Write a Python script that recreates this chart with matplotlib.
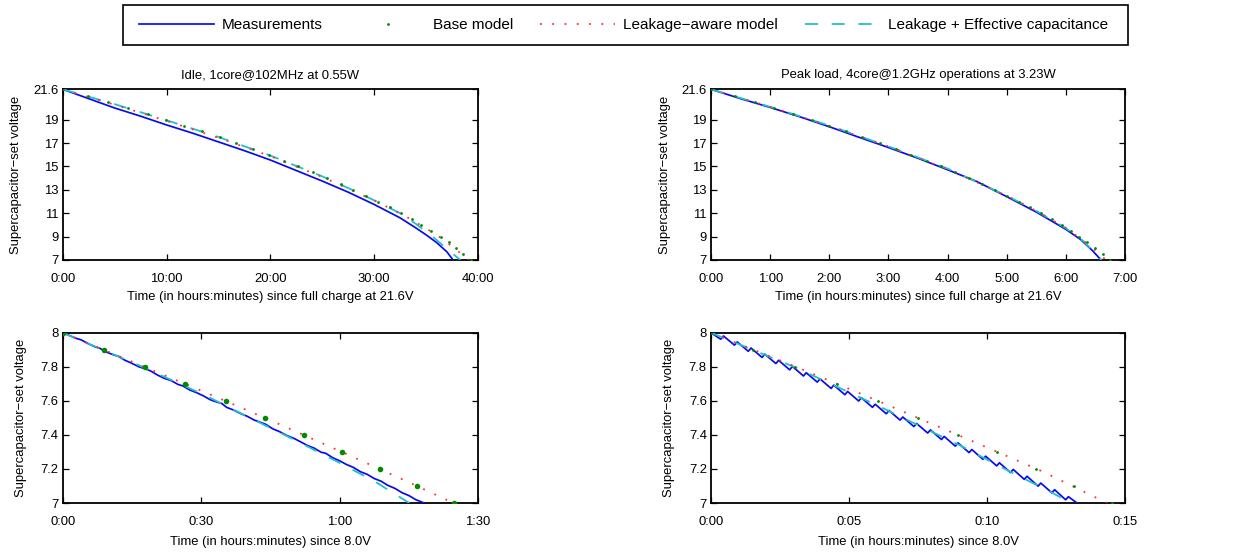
import matplotlib
matplotlib.use("Agg")
import matplotlib.pyplot as plt
import matplotlib.patches as mpatches
from matplotlib.lines import Line2D

plt.rcParams["font.family"] = ["Liberation Sans", "DejaVu Sans"]

# ---------------------------------------------------------------------------
# Data
# ---------------------------------------------------------------------------
# Top-left: idle, time in hours
tl_meas_t = [0.0, 2.5, 5.0, 7.5, 10.0, 12.5, 15.0, 17.5, 20.0, 22.5, 25.0,
             27.5, 30.0, 32.5, 34.0, 35.0, 36.0, 37.0, 37.6]
tl_meas_v = [21.6, 20.8, 20.0, 19.3, 18.55, 17.85, 17.1, 16.35, 15.55, 14.65,
             13.75, 12.8, 11.75, 10.6, 9.75, 9.15, 8.5, 7.7, 7.0]
tl_base_t = [0.0, 2.47, 4.39, 6.32, 8.24, 9.91, 11.7, 13.4, 15.1, 16.7, 18.3,
             19.9, 21.3, 22.7, 24.1, 25.5, 26.8, 28.0, 29.2, 30.4, 31.5, 32.6,
             33.6, 34.5, 35.5, 36.4, 37.2, 37.9, 38.6, 39.3]
tl_base_v = [21.6, 21.0, 20.5, 20.0, 19.5, 19.0, 18.5, 18.0, 17.5, 17.0, 16.5,
             16.0, 15.5, 15.0, 14.5, 14.0, 13.5, 13.0, 12.5, 12.0, 11.5, 11.0,
             10.5, 10.0, 9.5, 9.0, 8.5, 8.0, 7.5, 7.0]
tl_leak_t = [0.0, 5.0, 10.0, 15.0, 20.0, 25.0, 30.0, 33.0, 35.0, 36.5, 38.0, 39.1]
tl_leak_v = [21.6, 20.28, 18.9, 17.45, 15.88, 14.1, 12.1, 10.75, 9.7, 8.85, 7.8, 7.0]
tl_eff_t = [0.0, 5.0, 10.0, 15.0, 20.0, 25.0, 28.0, 30.0, 32.5, 34.0, 35.7, 37.0, 38.3]
tl_eff_v = [21.6, 20.33, 18.95, 17.52, 15.93, 14.15, 12.95, 12.1, 11.0, 10.1, 8.95, 7.95, 7.0]

# Top-right: peak load, time in hours
tr_meas_t = [0.0, 0.5, 1.0, 1.5, 2.0, 2.5, 3.0, 3.5, 4.0, 4.5, 5.0, 5.5, 6.0,
             6.25, 6.45, 6.595]
tr_meas_v = [21.6, 20.8, 20.05, 19.25, 18.4, 17.5, 16.62, 15.7, 14.72, 13.7,
             12.42, 11.1, 9.62, 8.75, 7.8, 7.0]
tr_base_t = [0.0, 0.406, 0.744, 1.07, 1.39, 1.70, 2.0, 2.28, 2.56, 2.86, 3.13,
             3.39, 3.65, 3.89, 4.13, 4.37, 4.59, 4.81, 5.01, 5.21, 5.39, 5.58,
             5.76, 5.93, 6.08, 6.23, 6.36, 6.49, 6.62, 6.75]
tr_base_v = tl_base_v
tr_leak_t = [0.0, 1.0, 2.0, 3.0, 4.0, 5.0, 5.5, 6.0, 6.4, 6.68]
tr_leak_v = [21.6, 20.1, 18.47, 16.72, 14.75, 12.5, 11.2, 9.75, 8.25, 7.0]
tr_eff_t = [0.0, 1.0, 2.0, 3.0, 4.0, 5.0, 5.5, 6.0, 6.3, 6.6]
tr_eff_v = [21.6, 20.1, 18.5, 16.72, 14.82, 12.5, 11.2, 9.72, 8.6, 7.0]

# Bottom-left: idle from 8.0V, time in minutes
bl_meas_t = [0, 1.5, 3, 4, 5.5, 7, 8, 9.5, 11, 12, 13.5, 15, 16.5, 18, 19, 20.5,
             22, 23.5, 25, 26, 27.5, 29, 30.5, 32, 33.5, 34.5, 35.5, 37, 38.5,
             40, 41.5, 43, 44, 45.5, 47, 48.5, 50, 51.5, 53, 54.5, 56, 57, 58.5,
             60, 61.5, 63, 64.5, 66, 67.5, 69, 70.5, 72, 73.5, 75, 76.5, 78.3]
bl_meas_v = [8.000, 7.983, 7.966, 7.958, 7.936, 7.917, 7.909, 7.886, 7.870,
             7.862, 7.838, 7.820, 7.800, 7.787, 7.776, 7.752, 7.732, 7.719,
             7.696, 7.688, 7.664, 7.648, 7.629, 7.606, 7.592, 7.584, 7.562,
             7.546, 7.526, 7.509, 7.487, 7.472, 7.462, 7.436, 7.419, 7.397,
             7.381, 7.360, 7.338, 7.322, 7.298, 7.292, 7.266, 7.248, 7.226,
             7.209, 7.184, 7.168, 7.144, 7.128, 7.103, 7.086, 7.061, 7.044,
             7.020, 7.000]
bl_base_t = [0.0, 9.0, 17.8, 26.6, 35.3, 43.8, 52.2, 60.5, 68.7, 76.8, 84.7]
bl_base_v = [8.0, 7.9, 7.8, 7.7, 7.6, 7.5, 7.4, 7.3, 7.2, 7.1, 7.0]
bl_leak_t = [0.0, 15.0, 30.0, 45.0, 60.0, 75.0, 84.7]
bl_leak_v = [8.0, 7.83, 7.66, 7.486, 7.306, 7.122, 7.0]
bl_eff_t = [0.0, 16.0, 31.2, 37.0, 50.0, 60.0, 67.6, 75.1]
bl_eff_v = [8.0, 7.815, 7.628, 7.548, 7.374, 7.236, 7.127, 7.0]

# Bottom-right: peak load from 8.0V, time in minutes (sawtooth measurement)
br_meas_t = [0.00, 0.35, 0.45, 0.85, 0.95, 1.35, 1.45, 1.85, 1.95, 2.35, 2.45,
             2.85, 2.95, 3.35, 3.45, 3.85, 3.95, 4.35, 4.45, 4.85, 4.95, 5.35,
             5.45, 5.85, 5.95, 6.35, 6.45, 6.85, 6.95, 7.35, 7.45, 7.85, 7.95,
             8.35, 8.45, 8.85, 8.95, 9.35, 9.45, 9.85, 9.95, 10.35, 10.45,
             10.85, 10.95, 11.35, 11.45, 11.85, 11.95, 12.35, 12.45, 12.85,
             12.95, 13.30]
br_meas_v = [8.000, 7.962, 7.981, 7.927, 7.946, 7.891, 7.910, 7.855, 7.874,
             7.819, 7.838, 7.782, 7.802, 7.746, 7.765, 7.710, 7.729, 7.673,
             7.692, 7.636, 7.655, 7.599, 7.618, 7.562, 7.580, 7.524, 7.543,
             7.487, 7.505, 7.449, 7.467, 7.411, 7.429, 7.373, 7.391, 7.334,
             7.353, 7.296, 7.314, 7.257, 7.275, 7.218, 7.236, 7.179, 7.197,
             7.139, 7.157, 7.099, 7.117, 7.060, 7.078, 7.019, 7.037, 6.995]
br_base_t = [0.0, 1.53, 3.04, 4.55, 6.04, 7.49, 8.94, 10.35, 11.76, 13.16, 14.52]
br_base_v = bl_base_v
br_leak_t = [0.0, 3.0, 6.0, 9.0, 12.0, 14.35]
br_leak_v = [8.0, 7.805, 7.603, 7.396, 7.186, 7.0]
br_eff_t = [0.0, 3.0, 6.0, 9.0, 11.0, 12.2, 13.05]
br_eff_v = [8.0, 7.80, 7.575, 7.34, 7.17, 7.074, 7.0]

# Axis ticks
top_yticks = [7, 9, 11, 13, 15, 17, 19, 21.6]
top_ylabels = ["7", "9", "11", "13", "15", "17", "19", "21.6"]
bot_yticks = [7, 7.2, 7.4, 7.6, 7.8, 8]
bot_ylabels = ["7", "7.2", "7.4", "7.6", "7.8", "8"]
tl_xticks = [0, 10, 20, 30, 40]
tl_xlabels = ["0:00", "10:00", "20:00", "30:00", "40:00"]
tr_xticks = [0, 1, 2, 3, 4, 5, 6, 7]
tr_xlabels = ["0:00", "1:00", "2:00", "3:00", "4:00", "5:00", "6:00", "7:00"]
bl_xticks = [0, 30, 60, 90]
bl_xlabels = ["0:00", "0:30", "1:00", "1:30"]
br_xticks = [0, 5, 10, 15]
br_xlabels = ["0:00", "0:05", "0:10", "0:15"]

# ---------------------------------------------------------------------------
# Style
# ---------------------------------------------------------------------------
BLUE = "#0a0aee"
GREEN = "#008a00"
RED = "#ff3030"
CYAN = "#22c0c8"
FS = 9.4
YLABEL = "Supercapacitor\u2212set voltage"
RED_LW = 1.3
RED_LS = (0, (1, 5.8))
CYAN_LS = (0, (7.2, 7.6))


def _draw(ax, data, marker_size):
    mt, mv, bt, bv, lt, lv, et, ev = data
    ax.plot(mt, mv, color=BLUE, lw=1.25, zorder=3)
    ax.plot(bt, bv, ls="none", marker="o", ms=marker_size, mew=0,
            color=GREEN, zorder=5)
    ax.plot(lt, lv, color=RED, lw=RED_LW, ls=RED_LS, zorder=4)
    ax.plot(et, ev, color=CYAN, lw=1.3, ls=CYAN_LS, zorder=3.5)


def _style(ax, xticks, xlabels, xlim, yticks, ylabels, ylim, xlabel,
           ylab_x, xlab_y):
    ax.set_xlim(*xlim)
    ax.set_ylim(*ylim)
    ax.set_xticks(xticks)
    ax.set_xticklabels(xlabels)
    ax.set_yticks(yticks)
    ax.set_yticklabels(ylabels)
    ax.tick_params(direction="in", top=True, right=True, length=4, width=0.9,
                   labelsize=FS)
    ax.tick_params(axis="x", pad=9.5)
    ax.tick_params(axis="y", pad=3)
    for s in ax.spines.values():
        s.set_linewidth(1.3)
    ax.set_xlabel(xlabel, fontsize=FS)
    ax.xaxis.set_label_coords(0.5, xlab_y)
    ax.set_ylabel(YLABEL, fontsize=FS)
    ax.yaxis.set_label_coords(ylab_x, 0.5)


fig = plt.figure(figsize=(12.5, 5.56), dpi=100)

ax_tl = fig.add_axes([0.0502, 0.5324, 0.3322, 0.307])
ax_tr = fig.add_axes([0.5688, 0.5324, 0.3312, 0.307])
ax_bl = fig.add_axes([0.0502, 0.0953, 0.3322, 0.3063])
ax_br = fig.add_axes([0.5688, 0.0953, 0.3312, 0.3063])

_draw(ax_tl, (tl_meas_t, tl_meas_v, tl_base_t, tl_base_v,
              tl_leak_t, tl_leak_v, tl_eff_t, tl_eff_v), 2.0)
_draw(ax_tr, (tr_meas_t, tr_meas_v, tr_base_t, tr_base_v,
              tr_leak_t, tr_leak_v, tr_eff_t, tr_eff_v), 2.0)
_draw(ax_bl, (bl_meas_t, bl_meas_v, bl_base_t, bl_base_v,
              bl_leak_t, bl_leak_v, bl_eff_t, bl_eff_v), 4.0)
_draw(ax_br, (br_meas_t, br_meas_v, br_base_t, br_base_v,
              br_leak_t, br_leak_v, br_eff_t, br_eff_v), 2.0)

xl_top = "Time (in hours:minutes) since full charge at 21.6V"
xl_bot = "Time (in hours:minutes) since 8.0V"
_style(ax_tl, tl_xticks, tl_xlabels, (0, 40), top_yticks, top_ylabels,
       (7, 21.6), xl_top, -0.098, -0.183)
_style(ax_tr, tr_xticks, tr_xlabels, (0, 7), top_yticks, top_ylabels,
       (7, 21.6), xl_top, -0.097, -0.183)
_style(ax_bl, bl_xticks, bl_xlabels, (0, 90), bot_yticks, bot_ylabels,
       (7, 8), xl_bot, -0.085, -0.192)
_style(ax_br, br_xticks, br_xlabels, (0, 15), bot_yticks, bot_ylabels,
       (7, 8), xl_bot, -0.087, -0.192)

ax_tl.set_title("Idle, 1core@102MHz at 0.55W", fontsize=FS, pad=8)
ax_tr.set_title("Peak load, 4core@1.2GHz operations at 3.23W", fontsize=FS, pad=8)

# Legend (gnuplot-style key across the top)
handles = [
    Line2D([], [], color=BLUE, lw=1.25),
    Line2D([], [], ls="none", marker="o", ms=2.0, mew=0, color=GREEN),
    Line2D([], [], color=RED, lw=RED_LW, ls=RED_LS),
    Line2D([], [], color=CYAN, lw=1.3, ls=CYAN_LS),
]
labels = ["Measurements", "Base model", "Leakage\u2212aware model",
          "Leakage + Effective capacitance"]
fig.legend(handles, labels, ncol=4, loc="center",
           bbox_to_anchor=(0.4988, 0.955), frameon=False, fontsize=11,
           handlelength=4.9, handletextpad=0.5, columnspacing=1.8,
           numpoints=1)
fig.patches.append(mpatches.Rectangle((0.0984, 0.919), 0.804, 0.072,
                                      transform=fig.transFigure, fill=False,
                                      edgecolor="black", lw=1.2))

fig.savefig("out.png", dpi=100)
